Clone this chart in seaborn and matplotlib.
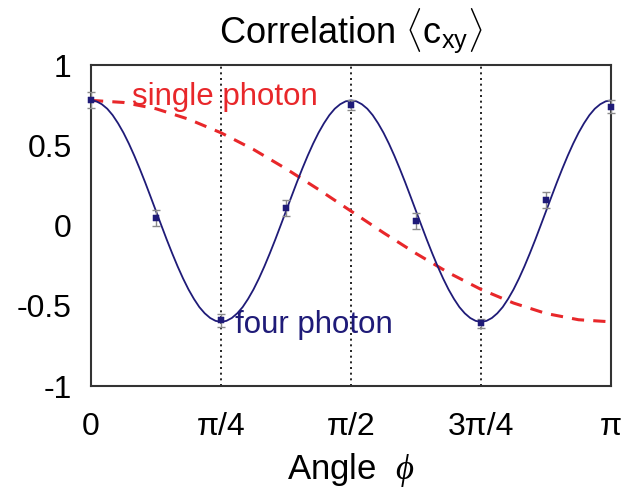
import numpy as np
import pandas as pd
import matplotlib
matplotlib.use("Agg")
import matplotlib.pyplot as plt
import seaborn as sns

PI = np.pi

four_y = [0.78, 0.774, 0.756, 0.728, 0.688, 0.637, 0.578, 0.510, 0.435, 0.354, 0.269, 0.180,
          0.09, 0.000, -0.089, -0.174, -0.255, -0.330, -0.398, -0.457, -0.508, -0.547, -0.576, -0.594,
          -0.60, -0.594, -0.576, -0.547, -0.508, -0.457, -0.398, -0.330, -0.255, -0.174, -0.089, 0.000,
          0.09, 0.180, 0.269, 0.354, 0.435, 0.510, 0.578, 0.637, 0.688, 0.728, 0.756, 0.774,
          0.78, 0.774, 0.756, 0.728, 0.688, 0.637, 0.578, 0.510, 0.435, 0.354, 0.269, 0.180,
          0.09, 0.000, -0.089, -0.174, -0.255, -0.330, -0.398, -0.457, -0.508, -0.547, -0.576, -0.594,
          -0.60, -0.594, -0.576, -0.547, -0.508, -0.457, -0.398, -0.330, -0.255, -0.174, -0.089, 0.000,
          0.09, 0.180, 0.269, 0.354, 0.435, 0.510, 0.578, 0.637, 0.688, 0.728, 0.756, 0.774, 0.78]
four_x = [k * PI / 96 for k in range(len(four_y))]

# Single-photon curve, sampled every pi/16
single_y = [0.78, 0.767, 0.728, 0.663, 0.578, 0.474, 0.354, 0.225, 0.09, -0.045, -0.174,
            -0.294, -0.398, -0.483, -0.548, -0.587, -0.60]
single_x = [k * PI / 16 for k in range(len(single_y))]

# Measured points (multiples of pi/8)
meas_x = [k * PI / 8 for k in range(9)]
meas_y = [0.78, 0.05, -0.59, 0.11, 0.75, 0.03, -0.61, 0.16, 0.74]
meas_err = [0.05, 0.05, 0.04, 0.05, 0.03, 0.05, 0.03, 0.05, 0.04]

tick_pos = [0, PI / 4, PI / 2, 3 * PI / 4, PI]
tick_labels = ["0", "π/4", "π/2", "3π/4", "π"]
ytick_pos = [-1, -0.5, 0, 0.5, 1]
ytick_labels = ["-1", "-0.5", "0", "0.5", "1"]

sns.set_style("white")
plt.rcParams["font.family"] = ["Liberation Sans", "DejaVu Sans"]
plt.rcParams["mathtext.fontset"] = "custom"
plt.rcParams["mathtext.rm"] = "Liberation Sans"
plt.rcParams["mathtext.it"] = "Liberation Serif:italic"
plt.rcParams["text.color"] = "black"
plt.rcParams["axes.labelcolor"] = "black"

navy = "#1f1b78"
red = "#e8272a"

fig = plt.figure(figsize=(6.21, 4.93), dpi=100)
ax = fig.add_axes([0.1465, 0.217, 0.8375, 0.651])

df_four = pd.DataFrame({"x": four_x, "y": four_y})
df_single = pd.DataFrame({"x": single_x, "y": single_y})

for xv in tick_pos[1:4]:
    ax.axvline(xv, color="black", linestyle=(0, (1.2, 2.2)), linewidth=1.2, zorder=1)

sns.lineplot(data=df_single, x="x", y="y", ax=ax, color=red, linewidth=2.2,
             linestyle=(0, (4, 3)), zorder=2)
sns.lineplot(data=df_four, x="x", y="y", ax=ax, color=navy, linewidth=1.3, zorder=3)

ax.errorbar(meas_x, meas_y, yerr=meas_err, fmt="none", ecolor="#8a8a8a",
            elinewidth=1.0, capsize=3, capthick=1.0, zorder=4, clip_on=False)
sns.scatterplot(x=meas_x, y=meas_y, ax=ax, color=navy, marker="s", s=20,
                edgecolor=navy, zorder=5, clip_on=False)

ax.set_xlim(0, PI)
ax.set_ylim(-1, 1)
ax.set_xticks(tick_pos)
ax.set_xticklabels(tick_labels)
ax.set_yticks(ytick_pos)
ax.set_yticklabels(ytick_labels)
ax.tick_params(axis="both", direction="in", length=6, width=1.2, labelsize=23,
               color="#333333", labelcolor="black")
ax.tick_params(axis="x", pad=19)
ax.tick_params(axis="y", pad=14)

for s in ax.spines.values():
    s.set_color("#333333")
    s.set_linewidth(1.5)

ax.set_xlabel(r"Angle  $\mathit{\phi}$", fontsize=25, labelpad=6)
ax.set_ylabel("")
ax.set_title(r"Correlation $\langle$c$_{\rm xy}\rangle$", fontsize=26, pad=16, color="black")

ax.text(0.079, 0.875, "single photon", color=red, fontsize=22.5, transform=ax.transAxes,
        ha="left", va="baseline")
ax.text(0.277, 0.165, "four photon", color=navy, fontsize=22.5, transform=ax.transAxes,
        ha="left", va="baseline")

fig.savefig("out.png", dpi=100)
